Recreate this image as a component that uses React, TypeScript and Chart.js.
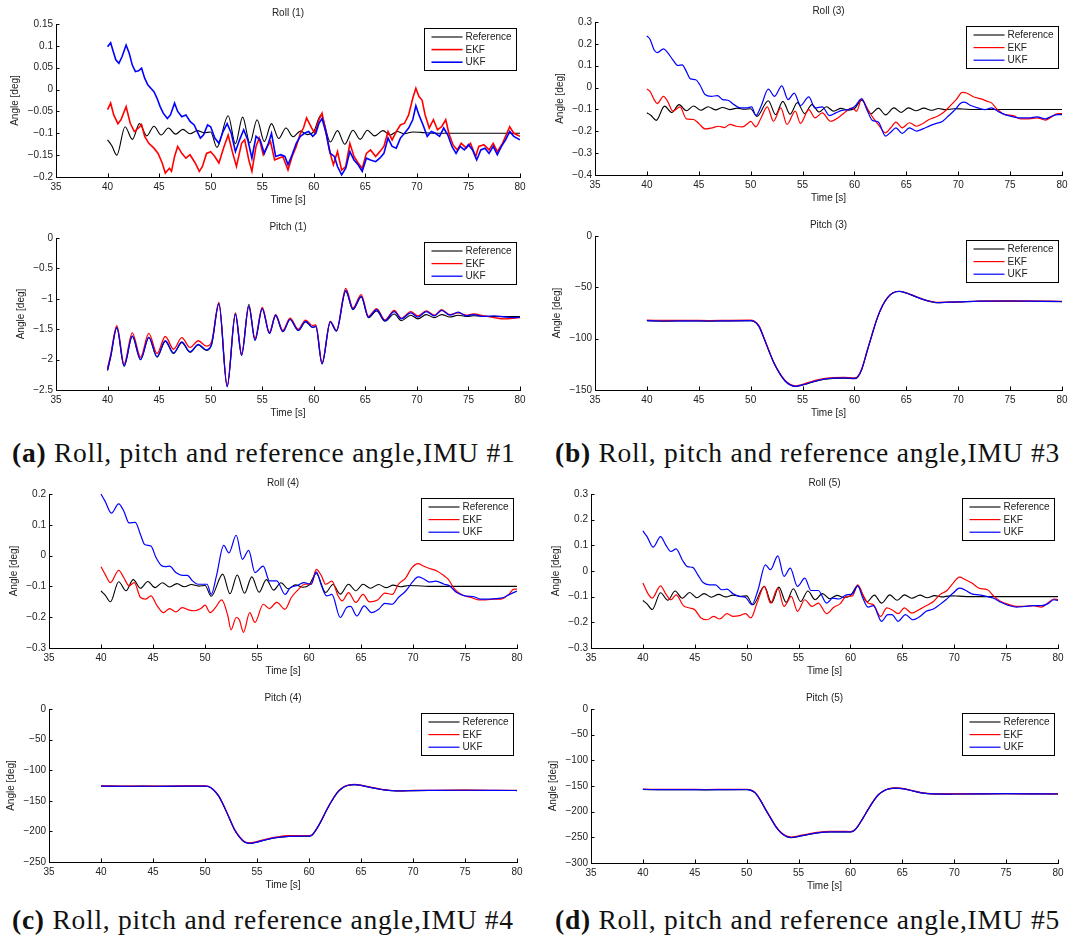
import React, { useEffect, useRef } from 'react';
import { Chart, registerables } from 'chart.js';

Chart.register(...registerables);

type Pt = [number, number];

// ---------- labels / ticks ----------
const legendLabels = ['Reference', 'EKF', 'UKF'];
const seriesColors = ['#000000', '#ff0000', '#0000ff'];
const timeTicks = [35, 40, 45, 50, 55, 60, 65, 70, 75, 80];
const roll1Ticks = [-0.2, -0.15, -0.1, -0.05, 0, 0.05, 0.1, 0.15];
const pitch1Ticks = [-2.5, -2, -1.5, -1, -0.5, 0];
const roll3Ticks = [-0.4, -0.3, -0.2, -0.1, 0, 0.1, 0.2, 0.3];
const pitch3Ticks = [-150, -100, -50, 0];
const roll4Ticks = [-0.3, -0.2, -0.1, 0, 0.1, 0.2];
const pitch4Ticks = [-250, -200, -150, -100, -50, 0];
const roll5Ticks = [-0.3, -0.2, -0.1, 0, 0.1, 0.2, 0.3];
const pitch5Ticks = [-300, -250, -200, -150, -100, -50, 0];

// ---------- data: [time s, angle deg] ----------
const rollReference: Pt[] = [
  [40, -0.115], [40.4, -0.128], [40.9, -0.15], [41.7, -0.085], [42.4, -0.114], [43.1, -0.078],
  [43.8, -0.106], [44.5, -0.084], [45.2, -0.104], [45.9, -0.088], [46.6, -0.102], [47.3, -0.091],
  [48.0, -0.101], [48.7, -0.094], [49.4, -0.099], [50.0, -0.097], [50.6, -0.132], [51.7, -0.06],
  [52.4, -0.124], [53.1, -0.063], [53.8, -0.122], [54.5, -0.069], [55.2, -0.119], [55.9, -0.078],
  [56.6, -0.112], [57.3, -0.088], [58.0, -0.108], [58.7, -0.095], [59.4, -0.103], [60.0, -0.096],
  [60.7, -0.058], [61.6, -0.12], [62.3, -0.094], [63.0, -0.125], [63.8, -0.093], [64.5, -0.114],
  [65.2, -0.093], [65.9, -0.106], [66.7, -0.094], [67.4, -0.104], [68.1, -0.096], [68.8, -0.101],
  [69.6, -0.097], [70.4, -0.098], [71.5, -0.1], [73, -0.1], [76, -0.1], [80, -0.1],
];

const roll1Ekf: Pt[] = [
  [40, -0.046], [40.3, -0.031], [40.6, -0.058], [41.0, -0.078], [41.3, -0.069], [41.8, -0.039],
  [42.2, -0.077], [42.6, -0.096], [43.0, -0.088], [43.3, -0.08], [43.6, -0.107], [44.0, -0.123],
  [44.5, -0.134], [44.9, -0.146], [45.3, -0.168], [45.6, -0.191], [46.0, -0.18], [46.2, -0.187],
  [46.5, -0.153], [46.8, -0.13], [47.2, -0.146], [47.6, -0.157], [48.0, -0.149], [48.5, -0.168],
  [48.9, -0.187], [49.2, -0.176], [49.6, -0.146], [50.0, -0.142], [50.4, -0.153], [50.8, -0.168],
  [51.3, -0.13], [51.7, -0.104], [52.1, -0.142], [52.5, -0.176], [53.0, -0.123], [53.3, -0.115],
  [53.7, -0.161], [54.0, -0.187], [54.4, -0.13], [54.7, -0.111], [55.1, -0.149], [55.5, -0.13],
  [55.8, -0.119], [56.2, -0.161], [56.6, -0.157], [57.0, -0.153], [57.5, -0.184], [57.9, -0.153],
  [58.3, -0.13], [58.7, -0.1], [59.0, -0.088], [59.3, -0.065], [59.8, -0.088], [60.1, -0.1],
  [60.5, -0.069], [60.8, -0.054], [61.2, -0.1], [61.5, -0.138], [61.9, -0.172], [62.3, -0.142],
  [62.7, -0.184], [63.1, -0.176], [63.5, -0.123], [63.9, -0.153], [64.3, -0.168], [64.7, -0.18],
  [65.1, -0.146], [65.5, -0.138], [66.0, -0.153], [66.4, -0.142], [66.8, -0.13], [67.2, -0.096],
  [67.6, -0.115], [68.0, -0.096], [68.4, -0.081], [68.8, -0.077], [69.2, -0.058], [69.6, -0.02],
  [69.9, 0.003], [70.2, -0.016], [70.5, -0.024], [70.8, -0.058], [71.2, -0.088], [71.6, -0.069],
  [72.0, -0.092], [72.4, -0.085], [72.8, -0.069], [73.1, -0.1], [73.5, -0.126], [73.9, -0.138],
  [74.3, -0.123], [74.8, -0.134], [75.2, -0.123], [75.7, -0.153], [76.0, -0.13], [76.5, -0.126],
  [77.0, -0.138], [77.4, -0.123], [77.8, -0.142], [78.3, -0.123], [78.6, -0.107], [79.0, -0.085],
  [79.4, -0.1], [80.0, -0.107],
];

const roll1Ukf: Pt[] = [
  [40, 0.098], [40.3, 0.107], [40.5, 0.091], [40.8, 0.068], [41.1, 0.06], [41.4, 0.075],
  [41.8, 0.102], [42.1, 0.083], [42.4, 0.056], [42.7, 0.041], [43.0, 0.043], [43.3, 0.049],
  [43.6, 0.026], [43.9, 0.011], [44.2, 0.003], [44.5, -0.005], [44.8, -0.02], [45.1, -0.039],
  [45.4, -0.054], [45.8, -0.066], [46.1, -0.058], [46.5, -0.031], [46.8, -0.05], [47.2, -0.062],
  [47.6, -0.058], [48.0, -0.073], [48.4, -0.081], [48.7, -0.096], [49.0, -0.111], [49.3, -0.104],
  [49.7, -0.081], [50.0, -0.085], [50.4, -0.111], [50.8, -0.123], [51.2, -0.096], [51.6, -0.078],
  [52.0, -0.1], [52.4, -0.142], [52.8, -0.115], [53.2, -0.092], [53.6, -0.115], [54.0, -0.157],
  [54.4, -0.107], [54.8, -0.115], [55.2, -0.146], [55.6, -0.123], [55.9, -0.1], [56.3, -0.153],
  [56.8, -0.149], [57.2, -0.153], [57.5, -0.172], [57.9, -0.149], [58.3, -0.123], [58.7, -0.107],
  [59.1, -0.1], [59.5, -0.096], [59.9, -0.107], [60.2, -0.1], [60.5, -0.077], [60.8, -0.066],
  [61.2, -0.1], [61.6, -0.146], [62.0, -0.153], [62.3, -0.176], [62.7, -0.195], [63.1, -0.18],
  [63.5, -0.142], [63.9, -0.161], [64.3, -0.172], [64.7, -0.187], [65.1, -0.157], [65.5, -0.161],
  [66.0, -0.165], [66.4, -0.157], [66.8, -0.146], [67.2, -0.111], [67.6, -0.13], [68.0, -0.134],
  [68.4, -0.111], [68.8, -0.1], [69.2, -0.088], [69.6, -0.069], [69.9, -0.037], [70.2, -0.058],
  [70.6, -0.081], [71.0, -0.107], [71.4, -0.096], [71.8, -0.1], [72.2, -0.107], [72.6, -0.088],
  [73.0, -0.104], [73.4, -0.13], [73.8, -0.146], [74.2, -0.13], [74.6, -0.138], [75.0, -0.126],
  [75.4, -0.138], [75.8, -0.161], [76.2, -0.138], [76.6, -0.134], [77.0, -0.146], [77.4, -0.13],
  [77.8, -0.149], [78.2, -0.13], [78.6, -0.115], [79.0, -0.096], [79.4, -0.107], [80.0, -0.115],
];

const pitch1Ref: Pt[] = [
  [40, -2.18], [40.3, -1.96], [40.9, -1.48], [41.6, -2.11], [42.4, -1.62], [43.2, -2.0], [44.0, -1.64],
  [44.8, -1.96], [45.6, -1.7], [46.4, -1.9], [47.2, -1.72], [48.0, -1.88], [48.8, -1.76], [49.6, -1.85],
  [50.1, -1.75], [50.8, -1.08], [51.6, -2.44], [52.4, -1.25], [53.0, -1.93], [53.7, -1.09], [54.3, -1.68],
  [55.0, -1.16], [55.7, -1.57], [56.3, -1.28], [57.0, -1.54], [57.7, -1.34], [58.5, -1.52], [59.2, -1.38],
  [59.9, -1.47], [60.2, -1.46], [60.8, -2.07], [61.6, -1.38], [62.2, -1.53], [63.1, -0.88], [63.8, -1.18],
  [64.6, -0.97], [65.3, -1.31], [66.1, -1.2], [66.9, -1.37], [67.8, -1.25], [68.5, -1.36], [69.4, -1.27],
  [70.1, -1.33], [70.9, -1.26], [71.7, -1.31], [72.4, -1.26], [73.2, -1.3], [74.0, -1.27], [74.8, -1.29],
  [75.5, -1.28], [77, -1.29], [78.5, -1.29], [80, -1.29],
];
const pitch1Ekf: Pt[] = [
  [40, -2.14], [40.3, -1.92], [40.9, -1.44], [41.6, -2.07], [42.4, -1.56], [43.2, -1.96], [44.0, -1.57],
  [44.8, -1.9], [45.6, -1.62], [46.4, -1.83], [47.2, -1.64], [48.0, -1.8], [48.8, -1.69], [49.6, -1.78],
  [50.1, -1.7], [50.8, -1.06], [51.6, -2.43], [52.4, -1.23], [53.0, -1.9], [53.7, -1.13], [54.3, -1.65],
  [55.0, -1.14], [55.7, -1.55], [56.3, -1.26], [57.0, -1.52], [57.7, -1.32], [58.5, -1.5], [59.2, -1.35],
  [59.9, -1.44], [60.2, -1.43], [60.8, -2.05], [61.6, -1.37], [62.2, -1.52], [63.1, -0.83], [63.8, -1.15],
  [64.6, -0.93], [65.3, -1.29], [66.1, -1.16], [66.9, -1.35], [67.8, -1.19], [68.5, -1.32], [69.4, -1.21],
  [70.1, -1.28], [70.9, -1.2], [71.7, -1.27], [72.4, -1.18], [73.2, -1.26], [74.0, -1.23], [74.8, -1.27],
  [75.5, -1.25], [76.5, -1.28], [77.5, -1.31], [78.5, -1.33], [79.3, -1.32], [80, -1.31],
];
const pitch1Ukf: Pt[] = [
  [40, -2.17], [40.3, -1.95], [40.9, -1.47], [41.6, -2.1], [42.4, -1.61], [43.2, -2.0], [44.0, -1.63],
  [44.8, -1.95], [45.6, -1.69], [46.4, -1.89], [47.2, -1.71], [48.0, -1.87], [48.8, -1.75], [49.6, -1.84],
  [50.1, -1.74], [50.8, -1.08], [51.6, -2.45], [52.4, -1.25], [53.0, -1.93], [53.7, -1.12], [54.3, -1.68],
  [55.0, -1.16], [55.7, -1.57], [56.3, -1.27], [57.0, -1.54], [57.7, -1.34], [58.5, -1.52], [59.2, -1.37],
  [59.9, -1.47], [60.2, -1.45], [60.8, -2.07], [61.6, -1.38], [62.2, -1.53], [63.1, -0.86], [63.8, -1.17],
  [64.6, -0.96], [65.3, -1.3], [66.1, -1.18], [66.9, -1.36], [67.8, -1.21], [68.5, -1.33], [69.4, -1.23],
  [70.1, -1.3], [70.9, -1.21], [71.7, -1.28], [72.4, -1.19], [73.2, -1.27], [74.0, -1.22], [74.8, -1.28],
  [75.5, -1.26], [76.5, -1.29], [77.5, -1.28], [78.5, -1.3], [79.3, -1.31], [80, -1.3],
];

const roll3Ekf: Pt[] = [
  [40, -0.007], [40.3, -0.017], [40.7, -0.055], [41.0, -0.073], [41.6, -0.04], [42.0, -0.063],
  [42.5, -0.108], [43.2, -0.088], [43.8, -0.143], [44.5, -0.146], [45.0, -0.164], [45.6, -0.189],
  [46.3, -0.184], [46.9, -0.177], [47.5, -0.183], [48.0, -0.168], [48.6, -0.177], [49.2, -0.18],
  [49.8, -0.161], [50.0, -0.155], [50.5, -0.18], [51.0, -0.139], [51.6, -0.088], [52.2, -0.154],
  [52.9, -0.093], [53.5, -0.169], [54.3, -0.108], [54.8, -0.164], [55.6, -0.101], [56.2, -0.139],
  [56.9, -0.116], [57.7, -0.154], [58.4, -0.139], [59.0, -0.116], [59.8, -0.093], [60.2, -0.108],
  [60.7, -0.052], [61.2, -0.093], [61.8, -0.139], [62.3, -0.169], [63.0, -0.207], [63.5, -0.184],
  [64.0, -0.158], [64.6, -0.184], [65.3, -0.161], [66.0, -0.177], [66.6, -0.164], [67.2, -0.146],
  [68.0, -0.131], [68.6, -0.113], [69.2, -0.085], [69.8, -0.055], [70.4, -0.022], [70.8, -0.025],
  [71.5, -0.043], [72.2, -0.052], [72.8, -0.063], [73.2, -0.07], [73.8, -0.101], [74.5, -0.124],
  [75.3, -0.128], [76.0, -0.143], [76.8, -0.143], [77.6, -0.139], [78.4, -0.149], [79.0, -0.134],
  [79.6, -0.119], [80.0, -0.119],
];
const roll3Ukf: Pt[] = [
  [40, 0.236], [40.3, 0.221], [40.7, 0.172], [41.0, 0.16], [41.6, 0.177], [42.0, 0.16],
  [42.5, 0.127], [43.0, 0.101], [43.4, 0.104], [43.8, 0.074], [44.2, 0.04], [44.7, 0.036],
  [45.1, 0.013], [45.6, -0.032], [46.2, -0.04], [46.8, -0.037], [47.3, -0.055], [47.8, -0.058],
  [48.4, -0.078], [49.0, -0.093], [49.6, -0.093], [50.1, -0.088], [50.5, -0.128], [51.0, -0.085],
  [51.7, -0.007], [52.3, -0.04], [53.0, 0.008], [53.6, -0.055], [54.2, -0.025], [54.8, -0.082],
  [55.6, -0.043], [56.2, -0.093], [56.9, -0.088], [57.6, -0.128], [58.2, -0.116], [58.8, -0.104],
  [59.4, -0.101], [60.0, -0.088], [60.7, -0.052], [61.2, -0.101], [61.7, -0.149], [62.3, -0.158],
  [63.0, -0.222], [63.5, -0.204], [64.0, -0.184], [64.6, -0.21], [65.3, -0.184], [66.0, -0.199],
  [66.6, -0.189], [67.3, -0.174], [67.9, -0.164], [68.5, -0.154], [69.1, -0.128], [69.7, -0.101],
  [70.2, -0.073], [70.6, -0.067], [71.2, -0.082], [71.9, -0.093], [72.6, -0.101], [73.2, -0.093],
  [73.8, -0.108], [74.5, -0.124], [75.3, -0.134], [76.0, -0.139], [76.8, -0.139], [77.6, -0.134],
  [78.4, -0.143], [79.0, -0.131], [79.6, -0.124], [80.0, -0.124],
];

const pitch3Ref: Pt[] = [
  [40, -82.6], [42, -82.9], [44, -82.7], [46, -82.9], [48, -82.7], [50, -82.6], [50.3, -83.1],
  [50.8, -88], [51.3, -100], [51.8, -113], [52.3, -125], [52.8, -134], [53.3, -141], [53.8, -145],
  [54.3, -146.6], [55, -145.2], [56, -142.2], [57, -139.7], [58, -138.7], [59, -138.4], [60, -138.9],
  [60.3, -137.6], [60.7, -130], [61.2, -113], [61.7, -96], [62.2, -80], [62.7, -68], [63.2, -60],
  [63.7, -55.5], [64.3, -54.1], [65, -55.6], [66, -59.6], [67, -63.1], [68, -64.9], [69, -64.6],
  [70, -64.3], [72, -63.6], [75, -63.4], [78, -63.7], [80, -63.9],
];
const pitch3Ekf: Pt[] = [
  [40, -82.0], [42, -82.2], [44, -82.1], [46, -82.3], [48, -82.1], [50, -82.0], [50.3, -82.6],
  [50.8, -87.5], [51.3, -99.5], [51.8, -112.5], [52.3, -124.5], [52.8, -133.5], [53.3, -140.5], [53.8, -144.5],
  [54.3, -146], [55, -144.4], [56, -141.2], [57, -138.8], [58, -137.9], [59, -137.7], [60, -138.2],
  [60.3, -137], [60.7, -129.5], [61.2, -112.5], [61.7, -95.5], [62.2, -79.5], [62.7, -67.6], [63.2, -59.7],
  [63.7, -55.2], [64.3, -53.8], [65, -55.3], [66, -59.3], [67, -62.8], [68, -64.6], [69, -64.4],
  [70, -64.1], [72, -63.4], [75, -63.2], [78, -63.5], [80, -63.7],
];
const pitch3Ukf: Pt[] = [
  [40, -82.5], [42, -82.8], [44, -82.6], [46, -82.8], [48, -82.6], [50, -82.5], [50.3, -83],
  [50.8, -88], [51.3, -100], [51.8, -113], [52.3, -125], [52.8, -134], [53.3, -141], [53.8, -145],
  [54.3, -146.5], [55, -145], [56, -142], [57, -139.5], [58, -138.5], [59, -138.2], [60, -138.7],
  [60.3, -137.5], [60.7, -130], [61.2, -113], [61.7, -96], [62.2, -80], [62.7, -68], [63.2, -60],
  [63.7, -55.5], [64.3, -54], [65, -55.5], [66, -59.5], [67, -63], [68, -64.8], [69, -64.5],
  [70, -64.2], [72, -63.5], [75, -63.3], [78, -63.6], [80, -63.8],
];

const roll4Ekf: Pt[] = [
  [40, -0.036], [40.4, -0.061], [40.9, -0.088], [41.7, -0.048], [42.2, -0.072], [42.7, -0.098],
  [43.2, -0.088], [43.8, -0.136], [44.3, -0.141], [44.8, -0.131], [45.4, -0.163], [46.0, -0.185],
  [46.6, -0.172], [47.2, -0.183], [47.8, -0.169], [48.4, -0.176], [49.0, -0.179], [49.6, -0.172],
  [50.0, -0.161], [50.5, -0.185], [51.0, -0.169], [51.6, -0.144], [52.2, -0.196], [52.5, -0.241],
  [53.0, -0.201], [53.3, -0.208], [53.7, -0.249], [54.3, -0.185], [54.8, -0.217], [55.6, -0.158],
  [56.2, -0.172], [56.9, -0.152], [57.7, -0.174], [58.3, -0.136], [59.0, -0.109], [59.6, -0.093],
  [60.2, -0.093], [60.7, -0.045], [61.2, -0.066], [61.6, -0.093], [62.2, -0.083], [62.8, -0.131],
  [63.2, -0.147], [63.8, -0.12], [64.5, -0.152], [65.2, -0.126], [65.8, -0.15], [66.6, -0.144],
  [67.3, -0.122], [68.0, -0.126], [68.6, -0.093], [69.3, -0.072], [69.9, -0.039], [70.5, -0.026],
  [71.0, -0.034], [71.6, -0.042], [72.3, -0.05], [73.0, -0.066], [73.4, -0.077], [74.0, -0.109],
  [74.8, -0.129], [75.6, -0.136], [76.3, -0.144], [77.0, -0.144], [77.8, -0.141], [78.5, -0.141],
  [79.2, -0.126], [79.7, -0.109], [80.0, -0.109],
];
const roll4Ukf: Pt[] = [
  [40, 0.2], [40.4, 0.176], [41.0, 0.138], [41.7, 0.168], [42.2, 0.144], [42.7, 0.106],
  [43.3, 0.108], [43.8, 0.068], [44.2, 0.036], [44.8, 0.031], [45.3, -0.007], [45.8, -0.032],
  [46.2, -0.036], [46.6, -0.034], [47.2, -0.055], [47.8, -0.064], [48.3, -0.064], [48.8, -0.082],
  [49.3, -0.093], [49.9, -0.093], [50.2, -0.093], [50.6, -0.126], [51.1, -0.066], [51.8, 0.033],
  [52.3, 0.009], [53.0, 0.066], [53.6, -0.012], [54.2, 0.017], [54.8, -0.055], [55.6, -0.034],
  [56.2, -0.082], [56.9, -0.082], [57.7, -0.126], [58.2, -0.104], [58.8, -0.098], [59.5, -0.088],
  [60.2, -0.093], [60.7, -0.053], [61.2, -0.098], [61.7, -0.131], [62.2, -0.126], [63.0, -0.201],
  [63.6, -0.169], [64.0, -0.165], [64.6, -0.196], [65.3, -0.163], [66.0, -0.185], [66.7, -0.174],
  [67.3, -0.155], [68.0, -0.158], [68.6, -0.136], [69.3, -0.115], [69.9, -0.088], [70.5, -0.069],
  [71.0, -0.075], [71.6, -0.086], [72.2, -0.083], [73.0, -0.093], [73.5, -0.098], [74.2, -0.12],
  [75.0, -0.131], [75.8, -0.133], [76.5, -0.141], [77.3, -0.141], [78.0, -0.14], [78.7, -0.136],
  [79.3, -0.126], [80.0, -0.115],
];

const pitch4Ref: Pt[] = [
  [40, -126.2], [42, -126.5], [44, -126.3], [46, -126.5], [48, -126.2], [50, -126.2], [50.3, -126.7],
  [50.8, -132], [51.3, -142], [51.8, -158], [52.3, -177], [52.8, -196], [53.3, -209], [53.8, -217.5],
  [54.3, -219.6], [55, -217.6], [56, -213.2], [57, -210], [58, -208.2], [59, -207.8], [60, -208],
  [60.3, -206.2], [60.7, -197], [61.2, -182], [61.7, -165], [62.2, -150], [62.7, -137], [63.2, -129],
  [63.7, -125], [64.4, -123.6], [65, -124.9], [66, -128.6], [67, -131.6], [68, -133.6], [69, -133.9],
  [70, -133.4], [72, -133.1], [75, -132.9], [78, -133.1], [80, -133.3],
];
const pitch4Ekf: Pt[] = [
  [40, -125.6], [42, -125.9], [44, -125.8], [46, -126], [48, -125.7], [50, -125.7], [50.3, -126.2],
  [50.8, -131.5], [51.3, -141.5], [51.8, -157.5], [52.3, -176.5], [52.8, -195.5], [53.3, -208.3], [53.8, -216.6],
  [54.3, -218.7], [55, -216.6], [56, -212], [57, -208.8], [58, -207], [59, -206.8], [60, -207],
  [60.3, -205.5], [60.7, -196.4], [61.2, -181.4], [61.7, -164.5], [62.2, -149.5], [62.7, -136.6], [63.2, -128.7],
  [63.7, -124.7], [64.4, -123.2], [65, -124.5], [66, -128.2], [67, -131.2], [68, -133.2], [69, -133.6],
  [70, -133.1], [72, -132.8], [75, -132.6], [78, -132.8], [80, -133],
];
const pitch4Ukf: Pt[] = [
  [40, -126], [42, -126.3], [44, -126.1], [46, -126.3], [48, -126], [50, -126], [50.3, -126.5],
  [50.8, -132], [51.3, -142], [51.8, -158], [52.3, -177], [52.8, -196], [53.3, -209], [53.8, -217.5],
  [54.3, -219.5], [55, -217.5], [56, -213], [57, -209.8], [58, -208], [59, -207.6], [60, -207.8],
  [60.3, -206], [60.7, -197], [61.2, -182], [61.7, -165], [62.2, -150], [62.7, -137], [63.2, -129],
  [63.7, -125], [64.4, -123.5], [65, -124.8], [66, -128.5], [67, -131.5], [68, -133.5], [69, -133.8],
  [70, -133.3], [72, -133], [75, -132.8], [78, -133], [80, -133.2],
];

const roll5Ekf: Pt[] = [
  [40, -0.047], [40.5, -0.089], [40.9, -0.106], [41.7, -0.058], [42.2, -0.089], [42.7, -0.112],
  [43.2, -0.093], [43.9, -0.135], [44.5, -0.144], [45.0, -0.151], [45.6, -0.183], [46.2, -0.19],
  [46.8, -0.177], [47.4, -0.187], [48.1, -0.166], [48.7, -0.177], [49.3, -0.174], [49.9, -0.166],
  [50.4, -0.183], [51.0, -0.125], [51.7, -0.06], [52.3, -0.125], [53.0, -0.067], [53.6, -0.138],
  [54.3, -0.099], [54.9, -0.157], [55.6, -0.112], [56.3, -0.138], [56.9, -0.125], [57.7, -0.166],
  [58.4, -0.141], [59.0, -0.128], [59.6, -0.099], [60.2, -0.097], [60.7, -0.054], [61.2, -0.093],
  [61.7, -0.125], [62.2, -0.131], [62.9, -0.177], [63.5, -0.144], [64.0, -0.151], [64.6, -0.166],
  [65.2, -0.144], [65.9, -0.164], [66.6, -0.151], [67.3, -0.135], [68.0, -0.119], [68.6, -0.093],
  [69.3, -0.076], [69.9, -0.047], [70.5, -0.024], [71.0, -0.032], [71.7, -0.047], [72.4, -0.067],
  [73.2, -0.073], [73.8, -0.097], [74.5, -0.119], [75.3, -0.131], [76.0, -0.138], [76.8, -0.138],
  [77.6, -0.135], [78.4, -0.141], [79.0, -0.125], [79.6, -0.109], [80.0, -0.112],
];
const roll5Ukf: Pt[] = [
  [40, 0.156], [40.4, 0.134], [41.0, 0.093], [41.7, 0.134], [42.2, 0.102], [42.7, 0.076],
  [43.2, 0.086], [43.8, 0.043], [44.3, 0.017], [44.8, 0.014], [45.3, -0.015], [45.8, -0.045],
  [46.4, -0.054], [47.0, -0.054], [47.6, -0.073], [48.1, -0.071], [48.7, -0.089], [49.3, -0.099],
  [49.9, -0.103], [50.5, -0.131], [51.1, -0.073], [51.8, 0.024], [52.3, 0.005], [53.0, 0.059],
  [53.6, -0.021], [54.2, 0.011], [54.9, -0.06], [55.6, -0.028], [56.2, -0.076], [56.9, -0.076],
  [57.7, -0.125], [58.3, -0.106], [58.9, -0.109], [59.6, -0.093], [60.2, -0.089], [60.7, -0.058],
  [61.2, -0.106], [61.7, -0.141], [62.2, -0.135], [63.0, -0.196], [63.6, -0.17], [64.0, -0.17],
  [64.6, -0.196], [65.3, -0.17], [66.0, -0.19], [66.7, -0.177], [67.3, -0.157], [68.0, -0.148],
  [68.6, -0.131], [69.2, -0.112], [69.9, -0.086], [70.5, -0.067], [71.0, -0.073], [71.7, -0.089],
  [72.4, -0.093], [73.1, -0.099], [73.8, -0.106], [74.5, -0.122], [75.3, -0.135], [76.0, -0.141],
  [76.8, -0.138], [77.6, -0.135], [78.4, -0.135], [79.0, -0.128], [79.6, -0.112], [80.0, -0.115],
];

const pitch5Ref: Pt[] = [
  [40, -156.7], [42, -157.4], [44, -157.2], [46, -157.5], [48, -157.2], [50, -157], [50.3, -157.7],
  [50.8, -163], [51.3, -177], [51.8, -195], [52.3, -212], [52.8, -229], [53.3, -241], [53.8, -248.2],
  [54.3, -250.5], [55, -248.2], [56, -244.2], [57, -241], [58, -239.7], [59, -239.4], [60, -239.7],
  [60.3, -237.7], [60.7, -229], [61.2, -213], [61.7, -196], [62.2, -180], [62.7, -167], [63.2, -159.6],
  [63.7, -155.6], [64.4, -154.1], [65, -155.1], [66, -159.6], [67, -163.9], [68, -165.6], [69, -165.9],
  [70, -165.7], [72, -165.4], [75, -165.1], [78, -165.4], [80, -165.7],
];
const pitch5Ekf: Pt[] = [
  [40, -156.1], [42, -156.7], [44, -156.5], [46, -156.8], [48, -156.5], [50, -156.3], [50.3, -157],
  [50.8, -162.5], [51.3, -176.5], [51.8, -194.5], [52.3, -211.5], [52.8, -228.3], [53.3, -240.2], [53.8, -247.2],
  [54.3, -249.4], [55, -247], [56, -243], [57, -239.8], [58, -238.5], [59, -238.3], [60, -238.6],
  [60.3, -236.8], [60.7, -228.4], [61.2, -212.4], [61.7, -195.4], [62.2, -179.5], [62.7, -166.6], [63.2, -159.2],
  [63.7, -155.2], [64.4, -153.7], [65, -154.7], [66, -159.2], [67, -163.5], [68, -165.2], [69, -165.5],
  [70, -165.3], [72, -165], [75, -164.8], [78, -165.1], [80, -165.4],
];
const pitch5Ukf: Pt[] = [
  [40, -156.5], [42, -157.2], [44, -157], [46, -157.3], [48, -157], [50, -156.8], [50.3, -157.5],
  [50.8, -163], [51.3, -177], [51.8, -195], [52.3, -212], [52.8, -229], [53.3, -241], [53.8, -248],
  [54.3, -250.3], [55, -248], [56, -244], [57, -240.8], [58, -239.5], [59, -239.2], [60, -239.5],
  [60.3, -237.5], [60.7, -229], [61.2, -213], [61.7, -196], [62.2, -180], [62.7, -167], [63.2, -159.5],
  [63.7, -155.5], [64.4, -154], [65, -155], [66, -159.5], [67, -163.8], [68, -165.5], [69, -165.8],
  [70, -165.6], [72, -165.3], [75, -165], [78, -165.3], [80, -165.6],
];

// ---------- layout ----------
const FONT = '"Liberation Sans", Arial, Helvetica, sans-serif';
const TEXT = '#222222';
const LP = 56, TP = 24, RP = 12, BP = 36;

interface Spec {
  title: string;
  series: Pt[][];
  yTicks: number[];
  rect: [number, number, number, number]; // plot area l, t, r, b
  smooth: boolean;
  lw: number;
}

const specs: Spec[] = [
  { title: 'Roll (1)', series: [rollReference, roll1Ekf, roll1Ukf], yTicks: roll1Ticks, rect: [56, 24, 520, 177], smooth: false, lw: 1.6 },
  { title: 'Pitch (1)', series: [pitch1Ref, pitch1Ekf, pitch1Ukf], yTicks: pitch1Ticks, rect: [56, 238, 520, 390], smooth: true, lw: 1.3 },
  { title: 'Roll (3)', series: [rollReference, roll3Ekf, roll3Ukf], yTicks: roll3Ticks, rect: [595, 22, 1062, 175], smooth: true, lw: 1.2 },
  { title: 'Pitch (3)', series: [pitch3Ref, pitch3Ekf, pitch3Ukf], yTicks: pitch3Ticks, rect: [595, 236, 1062, 390], smooth: true, lw: 1.2 },
  { title: 'Roll (4)', series: [rollReference, roll4Ekf, roll4Ukf], yTicks: roll4Ticks, rect: [49, 494, 517, 648], smooth: true, lw: 1.2 },
  { title: 'Pitch (4)', series: [pitch4Ref, pitch4Ekf, pitch4Ukf], yTicks: pitch4Ticks, rect: [49, 709, 517, 862], smooth: true, lw: 1.2 },
  { title: 'Roll (5)', series: [rollReference, roll5Ekf, roll5Ukf], yTicks: roll5Ticks, rect: [591, 494, 1058, 648], smooth: true, lw: 1.2 },
  { title: 'Pitch (5)', series: [pitch5Ref, pitch5Ekf, pitch5Ukf], yTicks: pitch5Ticks, rect: [591, 709, 1058, 863], smooth: true, lw: 1.2 },
];

const captions = [
  { tag: '(a)', text: ' Roll, pitch and reference angle,IMU #1', left: 12, cy: 453 },
  { tag: '(b)', text: ' Roll, pitch and reference angle,IMU #3', left: 555, cy: 453 },
  { tag: '(c)', text: ' Roll, pitch and reference angle,IMU #4', left: 12, cy: 920 },
  { tag: '(d)', text: ' Roll, pitch and reference angle,IMU #5', left: 555, cy: 920 },
];

function fmt(v: number): string {
  if (Math.abs(v) < 1e-12) return '0';
  const s = String(Math.round(Math.abs(v) * 10000) / 10000);
  return (v < 0 ? '\u2212' : '') + s;
}

const matlabPlugin = {
  id: 'matlab',
  afterDraw(chart: any, _args: any, opts: any) {
    const { ctx, chartArea: a, scales } = chart;
    const xs = scales.x, ys = scales.y;
    ctx.save();
    // inward ticks
    ctx.strokeStyle = '#000';
    ctx.lineWidth = 1;
    ctx.beginPath();
    xs.ticks.forEach((t: any) => {
      const px = Math.round(xs.getPixelForValue(t.value)) + 0.5;
      ctx.moveTo(px, a.bottom);
      ctx.lineTo(px, a.bottom - 3.5);
    });
    ys.ticks.forEach((t: any) => {
      const py = Math.round(ys.getPixelForValue(t.value)) + 0.5;
      ctx.moveTo(a.left, py);
      ctx.lineTo(a.left + 3.5, py);
    });
    ctx.stroke();

    // title and axis labels
    ctx.fillStyle = TEXT;
    ctx.font = `10px ${FONT}`;
    ctx.textAlign = 'center';
    ctx.textBaseline = 'middle';
    const cx = (a.left + a.right) / 2;
    ctx.fillText(opts.title, cx, a.top - 11);
    ctx.fillText('Time [s]', cx, a.bottom + 23);
    let maxW = 0;
    ys.ticks.forEach((t: any) => {
      maxW = Math.max(maxW, ctx.measureText(fmt(t.value)).width);
    });
    ctx.save();
    ctx.translate(a.left - 3 - maxW - 12, (a.top + a.bottom) / 2);
    ctx.rotate(-Math.PI / 2);
    ctx.fillText('Angle [deg]', 0, 0);
    ctx.restore();

    // legend box inside the axes (top-right)
    const bw = 92, bh = 42;
    const bx = Math.round(a.right - 4 - bw) + 0.5;
    const by = Math.round(a.top + 4) + 0.5;
    ctx.fillStyle = '#ffffff';
    ctx.fillRect(bx, by, bw, bh);
    ctx.strokeStyle = '#000';
    ctx.lineWidth = 1;
    ctx.strokeRect(bx, by, bw, bh);
    ctx.textAlign = 'left';
    chart.data.datasets.forEach((ds: any, i: number) => {
      const yy = by + 8.5 + i * 12.6;
      ctx.strokeStyle = ds.borderColor;
      ctx.lineWidth = Math.min(ds.borderWidth, 1.6);
      ctx.beginPath();
      ctx.moveTo(bx + 7, yy);
      ctx.lineTo(bx + 38, yy);
      ctx.stroke();
      ctx.fillStyle = TEXT;
      ctx.fillText(ds.label, bx + 41, yy + 0.5);
    });
    ctx.restore();
  },
};

function Subplot({ spec }: { spec: Spec }) {
  const ref = useRef<HTMLCanvasElement | null>(null);
  const [l, t, r, b] = spec.rect;
  const width = r - l + LP + RP;
  const height = b - t + TP + BP;

  useEffect(() => {
    if (!ref.current) return;
    const tickFont = { family: FONT, size: 10 };
    const chart = new Chart(ref.current, {
      type: 'line',
      data: {
        datasets: spec.series.map((s, i) => ({
          label: legendLabels[i],
          data: s.map(([x, y]) => ({ x, y })),
          borderColor: seriesColors[i],
          backgroundColor: seriesColors[i],
          borderWidth: i === 0 ? 1.1 : spec.lw,
          pointRadius: 0,
          fill: false,
          tension: 0,
          cubicInterpolationMode: spec.smooth || i === 0 ? 'monotone' : 'default',
          order: 3 - i,
        })),
      },
      options: {
        animation: false,
        responsive: false,
        maintainAspectRatio: false,
        devicePixelRatio: 1,
        events: [],
        layout: { padding: { left: 0, top: TP, right: RP, bottom: 0 } },
        plugins: {
          legend: { display: false },
          tooltip: { enabled: false },
          title: { display: false },
          matlab: { title: spec.title },
        } as any,
        scales: {
          x: {
            type: 'linear',
            min: timeTicks[0],
            max: timeTicks[timeTicks.length - 1],
            afterBuildTicks: (s: any) => { s.ticks = timeTicks.map((v) => ({ value: v })); },
            afterFit: (s: any) => { s.height = BP; },
            ticks: { autoSkip: false, maxRotation: 0, minRotation: 0, padding: 4, font: tickFont, color: TEXT, callback: (v: any) => fmt(Number(v)) },
            grid: { display: false, drawTicks: false },
            border: { display: true, color: '#000', width: 1 },
          },
          y: {
            type: 'linear',
            min: spec.yTicks[0],
            max: spec.yTicks[spec.yTicks.length - 1],
            afterBuildTicks: (s: any) => { s.ticks = spec.yTicks.map((v) => ({ value: v })); },
            afterFit: (s: any) => { s.width = LP; },
            ticks: { autoSkip: false, padding: 3, font: tickFont, color: TEXT, callback: (v: any) => fmt(Number(v)) },
            grid: { display: false, drawTicks: false },
            border: { display: true, color: '#000', width: 1 },
          },
        },
      } as any,
      plugins: [matlabPlugin as any],
    });
    return () => chart.destroy();
  }, [spec]);

  return (
    <canvas
      ref={ref}
      width={width}
      height={height}
      style={{ position: 'absolute', left: l - LP, top: t - TP, width, height }}
    />
  );
}

export default function App() {
  return (
    <div style={{ position: 'absolute', left: 0, top: 0, width: 1074, height: 940, background: '#ffffff', overflow: 'hidden' }}>
      {specs.map((s) => (
        <Subplot key={s.title} spec={s} />
      ))}
      {captions.map((c) => (
        <div
          key={c.tag}
          style={{
            position: 'absolute',
            left: c.left,
            top: c.cy - 16,
            height: 32,
            lineHeight: '32px',
            whiteSpace: 'nowrap',
            fontFamily: '"Liberation Serif", "DejaVu Serif", serif',
            fontSize: 27.5,
            letterSpacing: '0.75px',
            color: '#111',
          }}
        >
          <b>{c.tag}</b>
          {c.text}
        </div>
      ))}
    </div>
  );
}
